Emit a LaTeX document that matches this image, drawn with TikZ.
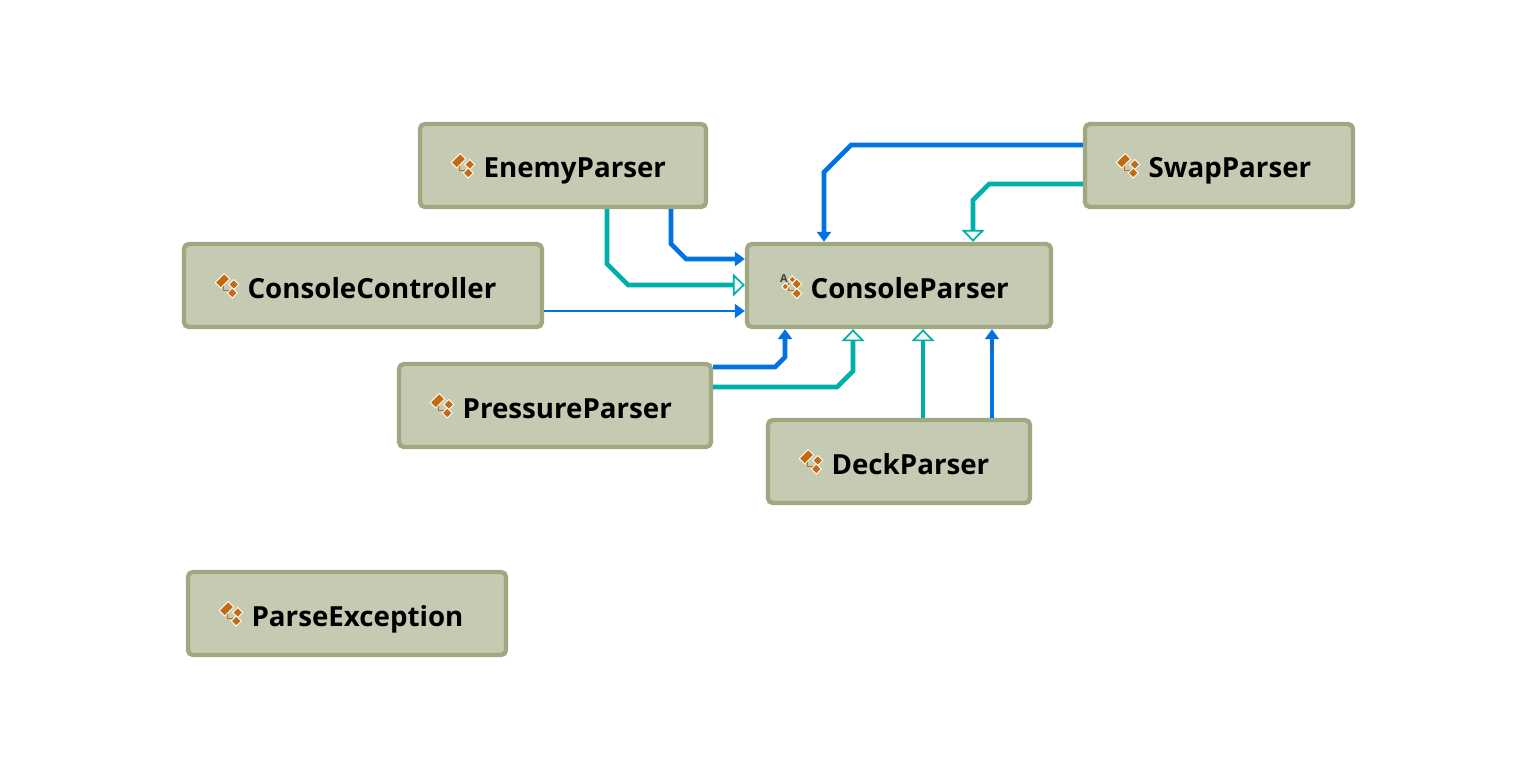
\documentclass[tikz,border=0pt]{standalone}
\usepackage{fontspec}
\setmainfont{Open Sans}
\usetikzlibrary{calc,arrows.meta}
\definecolor{boxfill}{HTML}{C5CAB3}
\definecolor{boxline}{HTML}{9FA880}
\definecolor{depblue}{HTML}{0073E0}
\definecolor{inhteal}{HTML}{00AFAA}
\definecolor{iconor}{HTML}{C46A12}
\definecolor{hollow}{HTML}{F2F5F2}
\tikzset{
  x=1pt,y=-1pt,
  classbox/.style={draw=boxline,fill=boxfill,line width=4.4pt,rounded corners=5pt,outer sep=2.2pt,
    inner xsep=0pt,inner ysep=0pt,minimum height=83pt,text width=#1,align=left,
    font=\fontsize{27.7}{28}\selectfont\bfseries,text height=25pt,text depth=0pt},
  dep/.style={draw=depblue,line width=4.6pt,-{Triangle[length=10pt,width=14pt]}},
  depthin/.style={draw=depblue,line width=1.9pt,-{Triangle[length=10pt,width=14pt]}},
  inh/.style={draw=inhteal,line width=4.6pt,-{Triangle[open,length=12pt,width=23pt,line width=1.7pt,fill=hollow]}},
  iconpart/.style={fill=iconor,draw=white,line width=0.9pt},
  iconlink/.style={draw=iconor,line width=1.3pt,fill=none},
  classicon/.pic={
    \draw[iconlink] (-3.5,-2) -- (-3.5,5) -- (3,5);
    \fill[iconpart] (-12,-3) -- (-3,-12) -- (2.5,-6.5) -- (-6.5,2.5) -- cycle;
    \fill[iconpart] (6.5,-6) -- (11.5,-1) -- (6.5,4) -- (1.5,-1) -- cycle;
    \fill[iconpart] (5,2.5) -- (10,7.5) -- (5,12.5) -- (0,7.5) -- cycle;
  },
  abstracticon/.pic={
    \draw[iconlink] (-1,-3) -- (-1,5) -- (5,5);
    \fill[iconpart] (-8,1) -- (-4.5,-2.5) -- (-1,1) -- (-4.5,4.5) -- cycle;
    \fill[iconpart] (7,-6.5) -- (12,-1.5) -- (7,3.5) -- (2,-1.5) -- cycle;
    \fill[iconpart] (7,3) -- (12,8) -- (7,13) -- (2,8) -- cycle;
    \fill[iconpart] (-1,-6) -- (2.5,-9.5) -- (6,-6) -- (2.5,-2.5) -- cycle;
  }
}
\newcommand{\classname}[1]{\hspace*{63.6pt}#1}
\begin{document}
\begin{tikzpicture}
\useasboundingbox (0,0) rectangle (1536,778);
\node[classbox=286pt] (enemy) at (563,165.5) {\classname{EnemyParser}};
\node[classbox=358pt] (controller) at (363,285.5) {\classname{ConsoleController}};
\node[classbox=304pt] (parser) at (899,285.5) {\classname{ConsoleParser}};
\node[classbox=268pt] (swap) at (1219,165.5) {\classname{SwapParser}};
\node[classbox=312pt] (pressure) at (555,405.5) {\classname{PressureParser}};
\node[classbox=262pt] (deck) at (899,461.5) {\classname{DeckParser}};
\node[classbox=318pt] (exception) at (347,613.5) {\classname{ParseException}};
\pic at ($(enemy.west)+(45.5,0)$) {classicon};
\pic at ($(controller.west)+(45.5,0)$) {classicon};
\pic at ($(parser.west)+(45,0)$) {abstracticon};
\pic at ($(swap.west)+(45.5,0)$) {classicon};
\pic at ($(pressure.west)+(45.5,0)$) {classicon};
\pic at ($(deck.west)+(45.5,0)$) {classicon};
\pic at ($(exception.west)+(45.5,0)$) {classicon};
\node[inner sep=0pt,text=black!75,font=\fontsize{11}{11}\selectfont\bfseries] (abstractmark) at ($(parser.west)+(39,-7)$) {A};
% connectors
\draw[inh] ($(enemy.south west)+(189.2,0)$) -- (607,264) -- (628,285) -- ($(parser.north west)+(0,43.2)$);
\draw[dep] ($(enemy.south west)+(253.2,0)$) -- (671,244) -- (686,259) -- ($(parser.north west)+(0,17.2)$);
\draw[depthin] ($(controller.north east)+(0,69.2)$) -- ($(parser.north west)+(0,69.2)$);
\draw[dep] ($(swap.north west)+(0,23.2)$) -- (851,145) -- (824,172) -- ($(parser.north west)+(79.2,0)$);
\draw[inh] ($(swap.north west)+(0,62.2)$) -- (989,184) -- (973,200) -- ($(parser.north west)+(228.2,0)$);
\draw[dep] ($(pressure.north east)+(0,5.2)$) -- (775,367) -- (785,357) -- ($(parser.south west)+(40.2,0)$);
\draw[inh] ($(pressure.north east)+(0,25.2)$) -- (837,387) -- (853,371) -- ($(parser.south west)+(108.2,0)$);
\draw[inh] ($(deck.north west)+(157.2,0)$) -- ($(parser.south west)+(178.2,0)$);
\draw[dep] ($(deck.north west)+(226.2,0)$) -- ($(parser.south west)+(247.2,0)$);
\end{tikzpicture}
\end{document}
